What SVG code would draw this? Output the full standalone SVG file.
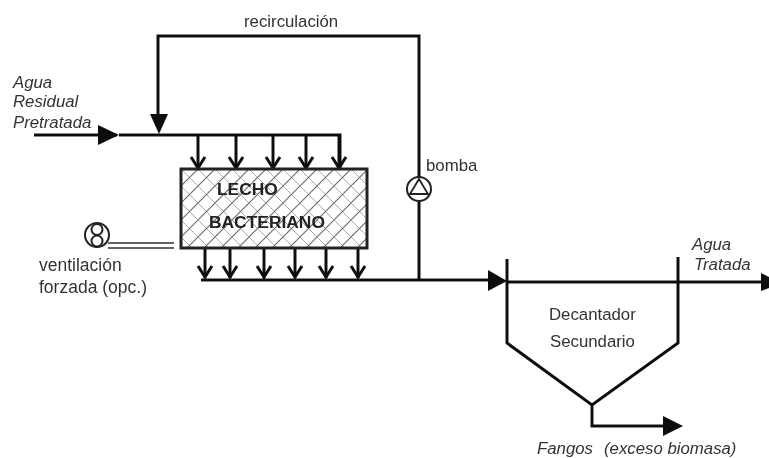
<svg xmlns="http://www.w3.org/2000/svg" width="769" height="458" viewBox="0 0 769 458">
<style>
.l{fill:none;stroke:#111;stroke-width:3}
.t{font-family:"Liberation Sans",Arial,sans-serif;font-size:16.8px;fill:#333}
.i{font-style:italic}
.b{font-weight:bold;fill:#222;font-size:17.4px}
.h{fill:#111}
.o{fill:none;stroke:#222;stroke-width:2}
.c{fill:none;stroke:#111;stroke-width:3}
</style>
<defs>
<pattern id="hatch" x="181" y="169" width="17" height="17" patternUnits="userSpaceOnUse">
<path d="M0 0L17 17M-4 4L4 -4" stroke="#aaa" stroke-width="1" fill="none"/>
<path d="M-2 19L19 -2" stroke="#666" stroke-width="1.100" fill="none"/>
</pattern>
<path id="ah" d="M-7 -11L0 0L7 -11" fill="none" stroke="#111" stroke-width="3"/>
<filter id="soft" x="0" y="0" width="100%" height="100%"><feGaussianBlur stdDeviation="0.5"/></filter>
</defs>
<rect width="769" height="458" fill="#fff"/>
<g filter="url(#soft)">
<g id="connectors">
<path class="l" d="M34 135H117M119 135H340V168"/>
<path class="h" d="M98 125L119 135L98 145Z"/>
<path class="l" d="M158 115V36H419V178M419 200V279"/>
<path class="h" d="M150 114H168L159 134Z"/>
<path class="c" d="M198 136V168M236 136V168M273 136V168M306 136V168M339 136V168"/>
<use href="#ah" x="198" y="168"/><use href="#ah" x="236" y="168"/><use href="#ah" x="273" y="168"/><use href="#ah" x="306" y="168"/><use href="#ah" x="339" y="168"/>
<path class="c" d="M205 249V278M230 249V278M264 249V278M295 249V278M326 249V278M358 249V278"/>
<use href="#ah" x="205" y="277"/><use href="#ah" x="230" y="277"/><use href="#ah" x="264" y="277"/><use href="#ah" x="295" y="277"/><use href="#ah" x="326" y="277"/><use href="#ah" x="358" y="277"/>
<path class="l" d="M201 280H490"/>
<path class="h" d="M488 270L507 281L488 291Z"/>
<path class="l" d="M507 282H762"/>
<path class="h" d="M761 273L769 277V288L761 291Z"/>
<path d="M108 243H174M108 248H174" fill="none" stroke="#333" stroke-width="1.5"/>
<path class="l" d="M592 405V426H667"/>
<path class="h" d="M663 416L683 426L663 436Z"/>
</g>
<g id="lecho">
<rect x="181" y="169" width="186" height="79" fill="url(#hatch)" stroke="#222" stroke-width="3"/>
<text class="t b" x="217" y="195">LECHO</text>
<text class="t b" x="209" y="228">BACTERIANO</text>
</g>
<g id="ventilador">
<circle cx="97" cy="235" r="12" class="o"/>
<circle cx="97" cy="229.500" r="5.500" class="o" stroke-width="1.500"/>
<circle cx="97" cy="241" r="5.500" class="o" stroke-width="1.500"/>
</g>
<g id="bomba">
<circle cx="419" cy="189" r="12" fill="#fff" stroke="#222" stroke-width="2"/>
<path d="M419 179L410 194H428Z" fill="#fff" stroke="#222" stroke-width="1.800"/>
<text class="t" x="426" y="171">bomba</text>
</g>
<g id="decantador">
<path class="l" d="M507 259V343L592 405L678 343V257"/>
<text class="t" x="549" y="320">Decantador</text>
<text class="t" x="550" y="347">Secundario</text>
</g>
<g id="labels">
<text class="t" x="244" y="27">recirculación</text>
<text class="t i" x="13" y="88">Agua</text>
<text class="t i" x="13" y="107">Residual</text>
<text class="t i" x="13" y="128">Pretratada</text>
<text class="t" x="39" y="271" style="font-size:17.5px">ventilación</text>
<text class="t" x="39" y="293" style="font-size:17.5px">forzada (opc.)</text>
<text class="t i" x="692" y="250">Agua</text>
<text class="t i" x="694" y="270">Tratada</text>
<text class="t i" x="537" y="454">Fangos</text>
<text class="t i" x="604" y="454">(exceso biomasa)</text>
</g>
</g>
</svg>
